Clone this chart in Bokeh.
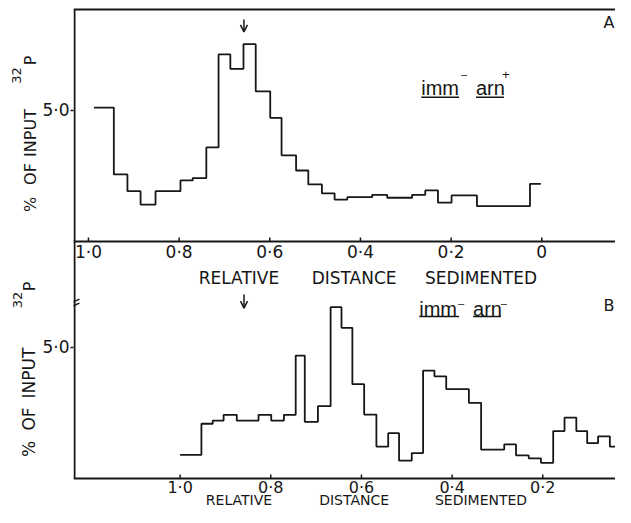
from bokeh.plotting import figure
from bokeh.layouts import row
from bokeh.models import Range1d, FixedTicker, Span, Arrow, OpenHead
from bokeh.core.properties import value
from bokeh.embed import file_html
from bokeh.resources import INLINE
import math

# ---------------- data ----------------
# Panel A: imm- arn+   (bin edges in relative distance sedimented, values in % of input 32P)
A_EDGES = [0.988, 0.944, 0.914, 0.885, 0.852, 0.797, 0.770, 0.740, 0.713, 0.687,
           0.658, 0.631, 0.599, 0.574, 0.542, 0.515, 0.485, 0.457, 0.429, 0.374,
           0.341, 0.286, 0.257, 0.229, 0.199, 0.143, 0.026, 0.002]
A_VALUES = [5.11, 2.56, 1.92, 1.41, 1.92, 2.33, 2.42, 3.59, 7.14, 6.59,
            7.53, 5.73, 4.72, 3.29, 2.71, 2.18, 1.84, 1.60, 1.69, 1.78,
            1.67, 1.78, 1.95, 1.48, 1.76, 1.35, 2.20]
A_MARKER = 0.657

# Panel B: imm- arn-
B_EDGES = [1.000, 0.953, 0.928, 0.904, 0.875, 0.827, 0.799, 0.771, 0.745, 0.725,
           0.696, 0.668, 0.644, 0.620, 0.594, 0.567, 0.541, 0.517, 0.489, 0.464,
           0.439, 0.413, 0.363, 0.336, 0.285, 0.259, 0.231, 0.204, 0.177, 0.152,
           0.126, 0.102, 0.078, 0.052, 0.025, 0.000]
B_VALUES = [0.90, 2.09, 2.21, 2.43, 2.21, 2.43, 2.21, 2.43, 4.69, 2.16,
            2.76, 6.54, 5.75, 3.60, 2.44, 1.22, 1.73, 0.68, 0.97, 4.12,
            3.90, 3.41, 2.89, 1.10, 1.30, 0.88, 0.77, 0.60, 1.81, 2.32,
            1.81, 1.35, 1.61, 1.22, 2.30]
B_MARKER = 0.859

A_X_TICKS = [1.0, 0.8, 0.6, 0.4, 0.2, 0.0]
A_X_TICK_LABELS = ["1·0", "0·8", "0·6", "0·4", "0·2", "0"]
B_X_TICKS = [1.0, 0.8, 0.6, 0.4, 0.2]          # the 0 tick of panel B falls off the page
B_X_TICK_LABELS = ["1·0", "0·8", "0·6", "0·4", "0·2"]
Y_TICK = 5.0
Y_TICK_LABEL = "5·0"
X_TITLE = ["RELATIVE", "DISTANCE", "SEDIMENTED"]
Y_TITLE = ["%", "OF", "INPUT"]

# ---------------- layout ----------------
W, H = 615, 507
LEFT_W = 39                 # strip holding the rotated y titles
BL = 32                     # room for the y tick labels
FRAME_W = W - LEFT_W - BL
PX_X = 455.0                # px per unit of relative distance
PX_Y = 26.2                 # px per % unit
A_X0 = 1.03297              # panel A distance at the frame's left edge
B_SHIFT = 92 / PX_X         # panel B's distance axis is shifted right by 0.2
A_Y_TOP = 9.19847           # panel A value at the top of the canvas
A_TO_B = 237 / PX_Y         # panel A zero sits this far above panel B zero

INK = "#161616"
FONT = "DejaVu Sans"

a_xr = Range1d(A_X0, A_X0 - FRAME_W / PX_X)
a_yr = Range1d(A_Y_TOP - H / PX_Y, A_Y_TOP)
b_xr = Range1d(A_X0 + B_SHIFT, A_X0 + B_SHIFT - FRAME_W / PX_X)
b_yr = Range1d(A_Y_TOP - H / PX_Y + A_TO_B, A_Y_TOP + A_TO_B)

p = figure(width=W - LEFT_W, height=H, output_backend="svg", toolbar_location=None,
           x_range=b_xr, y_range=b_yr, x_axis_location=None,
           min_border_left=BL, min_border_right=0, min_border_top=0, min_border_bottom=0)
p.extra_x_ranges = {"A": a_xr}
p.extra_y_ranges = {"A": a_yr}
p.outline_line_color = None
p.grid.visible = False
p.background_fill_color = "white"
p.border_fill_color = "white"

# left axis ticks/labels (one 5.0 tick per panel)
ya = p.yaxis[0]
ya.ticker = FixedTicker(ticks=[Y_TICK, Y_TICK + A_TO_B])
ya.major_label_overrides = {Y_TICK: Y_TICK_LABEL, Y_TICK + A_TO_B: Y_TICK_LABEL}
ya.axis_line_color = None
ya.major_tick_line_color = INK
ya.major_tick_line_width = 1.5
ya.major_tick_out = 3
ya.major_tick_in = 0
ya.minor_tick_line_color = None
ya.major_label_standoff = 1
ya.major_label_text_font = FONT
ya.major_label_text_font_size = "17px"
ya.major_label_text_color = INK

A = dict(x_range_name="A", y_range_name="A")


def txt(fig, xs, ys, texts, size, font=FONT, align="center", angle=0.0, **kw):
    fig.text(x=xs, y=ys, text=texts, angle=angle, text_color=INK,
             text_font=value(font), text_font_size=value(size),
             text_align=align, text_baseline="middle", **kw)


# axis lines: shared left line, panel A top border, panel A and B distance axes
p.segment(x0=[1.03077], x1=[1.03077], y0=[8.855], y1=[-A_TO_B],
          line_color=INK, line_width=2, **A)
p.add_layout(Span(location=8.855, dimension="width", y_range_name="A",
                  line_color=INK, line_width=2))
p.add_layout(Span(location=0, dimension="width", y_range_name="A",
                  line_color=INK, line_width=2))
p.add_layout(Span(location=0, dimension="width", line_color=INK, line_width=2))

# axis break mark on the left line
p.segment(x0=[1.0396, 1.0396], x1=[1.0198, 1.0198], y0=[-2.35, -2.50], y1=[-2.20, -2.35],
          line_color=INK, line_width=1.5, **A)

# distance ticks and labels, panel A
n = len(A_X_TICKS)
p.segment(x0=A_X_TICKS, x1=A_X_TICKS, y0=[0] * n, y1=[4 / PX_Y] * n,
          line_color=INK, line_width=1.5, **A)
txt(p, A_X_TICKS, [-10.5 / PX_Y] * n, A_X_TICK_LABELS, "17px", **A)
# distance ticks and labels, panel B
n = len(B_X_TICKS)
p.segment(x0=B_X_TICKS, x1=B_X_TICKS, y0=[0] * n, y1=[4 / PX_Y] * n,
          line_color=INK, line_width=1.5)
txt(p, B_X_TICKS, [-9.5 / PX_Y] * n, B_X_TICK_LABELS, "16px")

# distance titles
TITLE_X = [0.668, 0.414, 0.134]
txt(p, TITLE_X, [-37 / PX_Y] * 3, X_TITLE, "17px", **A)
txt(p, TITLE_X, [-258.5 / PX_Y] * 3, X_TITLE, "14px", **A)

# histograms
p.step(x=A_EDGES, y=A_VALUES + [A_VALUES[-1]], mode="after",
       line_color=INK, line_width=1.8, **A)
p.step(x=B_EDGES, y=B_VALUES + [B_VALUES[-1]], mode="after",
       line_color=INK, line_width=1.8)

# marker arrows
p.add_layout(Arrow(end=OpenHead(size=7, line_width=1.5, line_color=INK),
                   x_start=A_MARKER, x_end=A_MARKER, y_start=8.47, y_end=8.0,
                   line_width=1.5, line_color=INK, **A))
p.add_layout(Arrow(end=OpenHead(size=7, line_width=1.5, line_color=INK),
                   x_start=B_MARKER, x_end=B_MARKER, y_start=7.02, y_end=6.5,
                   line_width=1.5, line_color=INK))

# panel letters
txt(p, [-0.1604, -0.1604], [8.34, -2.443], ["A", "B"], "16px", align="right", **A)

# genotype labels
GF = "Liberation Sans"
txt(p, [0.2659, 0.1451, 0.2703, 0.1516], [5.859, 5.859, -2.576, -2.576],
    ["imm", "arn", "imm", "arn"], "20px", font=GF, align="left", **A)
txt(p, [0.1714, 0.178, 0.0835], [6.41, -2.355, -2.355], ["\u2013", "\u2013", "\u2013"],
    "11px", font=GF, **A)
txt(p, [0.0791], [6.39], ["+"], "13px", font=GF, **A)
p.segment(x0=[0.2659, 0.1451, 0.2703, 0.1516], x1=[0.1824, 0.0835, 0.1824, 0.0901],
          y0=[5.508, 5.508, -2.863, -2.863], y1=[5.508, 5.508, -2.863, -2.863],
          line_color=INK, line_width=1.5, **A)

# ---------------- left strip with the rotated y titles ----------------
q = figure(width=LEFT_W, height=H, output_backend="svg", toolbar_location=None,
           x_range=Range1d(541 / PX_X, (541 - LEFT_W) / PX_X),
           y_range=Range1d(A_Y_TOP - H / PX_Y, A_Y_TOP),
           x_axis_location=None, y_axis_location=None,
           min_border_left=0, min_border_right=0, min_border_top=0, min_border_bottom=0)
q.outline_line_color = None
q.grid.visible = False
q.background_fill_color = "white"
q.border_fill_color = "white"
txt(q, [511.5 / PX_X] * 3, [1.412, 2.576, 4.141], Y_TITLE, "16px", angle=math.pi / 2)
txt(q, [512.5 / PX_X] * 3, [-7.920, -6.775, -5.019], Y_TITLE, "17px", angle=math.pi / 2)
txt(q, [511.5 / PX_X, 512.5 / PX_X], [6.908, -1.718], ["P", "P"], "16px", angle=math.pi / 2)
txt(q, [525.5 / PX_X, 524.5 / PX_X], [6.336, -2.233], ["32", "32"], "13px", angle=math.pi / 2)

layout = row(q, p, spacing=0)
open("out.html", "w").write(file_html(layout, INLINE))
